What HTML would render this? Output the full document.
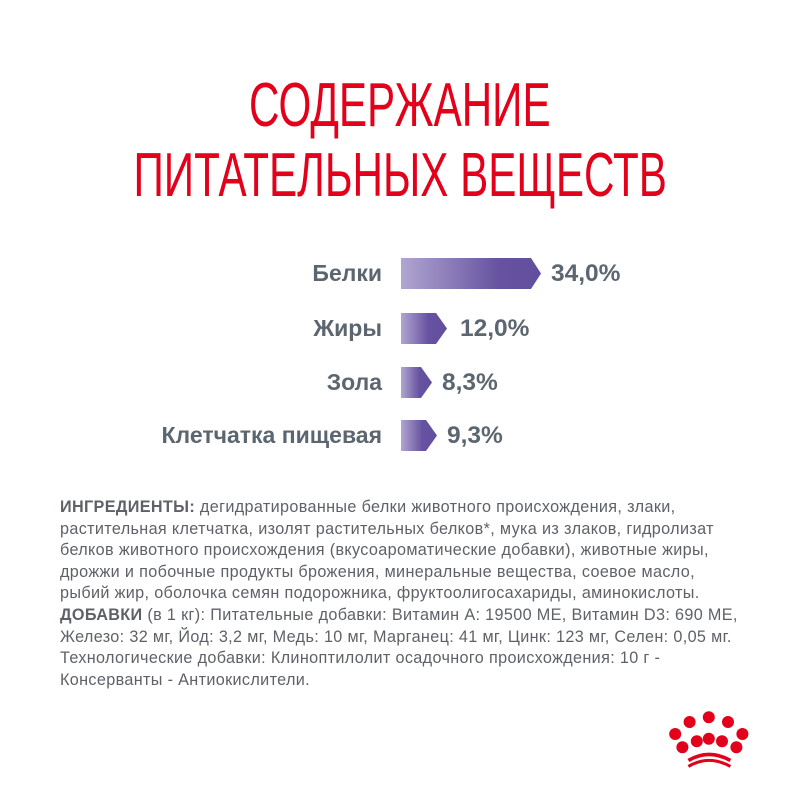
<!DOCTYPE html>
<html><head><meta charset="utf-8"><style>
body{margin:0;width:800px;height:800px;background:#fff;overflow:hidden;position:relative;font-family:"Liberation Sans",sans-serif}
.t{position:absolute;left:0;width:800px;text-align:center;color:#e2001a;font-size:62px;line-height:62px;white-space:nowrap}
.t span{display:inline-block;transform:scaleX(0.68);transform-origin:center}
.l{position:absolute;right:418px;color:#5b6670;font-weight:bold;font-size:23px;line-height:31px;white-space:nowrap}
.v{position:absolute;color:#5b6670;font-weight:bold;font-size:24.5px;line-height:31px}
.b{position:absolute;left:401px;height:31px}
.ing{position:absolute;left:60px;top:497px;width:720px;font-size:16.2px;letter-spacing:0.35px;line-height:21.6px;color:#5e6268;white-space:nowrap}
</style></head><body>
<div class="t" style="top:75px"><span>СОДЕРЖАНИЕ</span></div>
<div class="t" style="top:145px"><span>ПИТАТЕЛЬНЫХ ВЕЩЕСТВ</span></div>

<div class="l" style="top:258px">Белки</div>
<svg class="b" style="top:258px" width="145" height="31"><defs><linearGradient id="g1"><stop offset="0" stop-color="#b1a6d1"/><stop offset="0.7" stop-color="#6652a0"/><stop offset="1" stop-color="#614e9e"/></linearGradient></defs><polygon points="0,0 130,0 140,15.5 130,31 0,31" fill="url(#g1)"/></svg>
<div class="v" style="left:551px;top:258px">34,0%</div>

<div class="l" style="top:313px">Жиры</div>
<svg class="b" style="top:313px" width="50" height="31"><defs><linearGradient id="g2"><stop offset="0" stop-color="#b1a6d1"/><stop offset="0.6" stop-color="#6652a0"/><stop offset="1" stop-color="#614e9e"/></linearGradient></defs><polygon points="0,0 35,0 46,15.5 35,31 0,31" fill="url(#g2)"/></svg>
<div class="v" style="left:460px;top:313px">12,0%</div>

<div class="l" style="top:367px">Зола</div>
<svg class="b" style="top:367px" width="35" height="31"><defs><linearGradient id="g3"><stop offset="0" stop-color="#b1a6d1"/><stop offset="0.6" stop-color="#6652a0"/><stop offset="1" stop-color="#614e9e"/></linearGradient></defs><polygon points="0,0 20,0 31,15.5 20,31 0,31" fill="url(#g3)"/></svg>
<div class="v" style="left:442px;top:367px">8,3%</div>

<div class="l" style="top:420px">Клетчатка пищевая</div>
<svg class="b" style="top:420px" width="40" height="31"><defs><linearGradient id="g4"><stop offset="0" stop-color="#b1a6d1"/><stop offset="0.6" stop-color="#6652a0"/><stop offset="1" stop-color="#614e9e"/></linearGradient></defs><polygon points="0,0 25,0 36,15.5 25,31 0,31" fill="url(#g4)"/></svg>
<div class="v" style="left:447px;top:420px">9,3%</div>

<div class="ing"><b>ИНГРЕДИЕНТЫ:</b> дегидратированные белки животного происхождения, злаки,<br>растительная клетчатка, изолят растительных белков*, мука из злаков, гидролизат<br>белков животного происхождения (вкусоароматические добавки), животные жиры,<br>дрожжи и побочные продукты брожения, минеральные вещества, соевое масло,<br>рыбий жир, оболочка семян подорожника, фруктоолигосахариды, аминокислоты.<br><b>ДОБАВКИ</b> (в 1 кг): Питательные добавки: Витамин А: 19500 МЕ, Витамин D3: 690 МЕ,<br>Железо: 32 мг, Йод: 3,2 мг, Медь: 10 мг, Марганец: 41 мг, Цинк: 123 мг, Селен: 0,05 мг.<br>Технологические добавки: Клиноптилолит осадочного происхождения: 10 г -<br>Консерванты - Антиокислители.</div>

<svg style="position:absolute;left:662px;top:698px" width="96" height="72" viewBox="0 0 80 60">
<g fill="#e2001a">
<circle cx="11" cy="30" r="5"/><circle cx="23" cy="20" r="5"/><circle cx="39" cy="16" r="5"/><circle cx="55" cy="20" r="5"/><circle cx="67" cy="30" r="5"/>
<circle cx="17" cy="41" r="5"/><circle cx="29" cy="36" r="5"/><circle cx="39" cy="34" r="5"/><circle cx="50" cy="36" r="5"/><circle cx="62" cy="41" r="5"/>
</g>
<path d="M22 52 Q39 42 57 52" stroke="#e2001a" stroke-width="3" fill="none"/>
<path d="M22 57 Q39 47 57 57" stroke="#e2001a" stroke-width="2.5" fill="none"/>
</svg>
</body></html>
